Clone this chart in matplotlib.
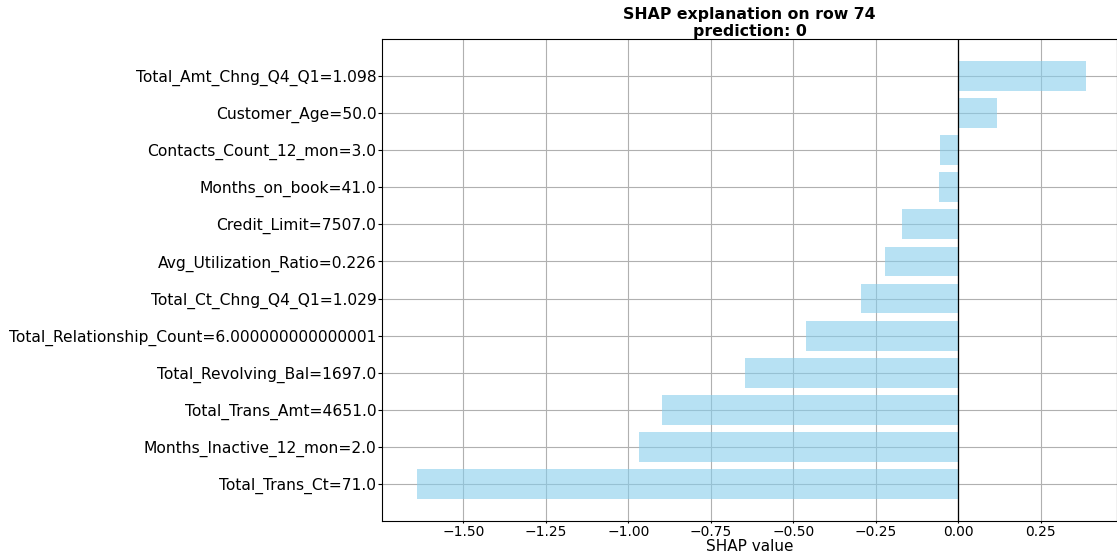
import numpy as np
import matplotlib
matplotlib.use("Agg")
import matplotlib.pyplot as plt

# features (bottom to top) and their SHAP values for row 74
features = [
    "Total_Trans_Ct=71.0",
    "Months_Inactive_12_mon=2.0",
    "Total_Trans_Amt=4651.0",
    "Total_Revolving_Bal=1697.0",
    "Total_Relationship_Count=6.000000000000001",
    "Total_Ct_Chng_Q4_Q1=1.029",
    "Avg_Utilization_Ratio=0.226",
    "Credit_Limit=7507.0",
    "Months_on_book=41.0",
    "Contacts_Count_12_mon=3.0",
    "Customer_Age=50.0",
    "Total_Amt_Chng_Q4_Q1=1.098",
]
shap_values = [-1.642, -0.968, -0.897, -0.646, -0.461, -0.294,
               -0.221, -0.170, -0.058, -0.055, 0.117, 0.388]

fig = plt.figure(figsize=(11.17, 5.56), dpi=100)
ax = fig.add_axes([0.342, 0.063, 0.658, 0.867])

y = np.arange(len(features))
ax.barh(y, shap_values, color='skyblue', alpha=0.6, height=0.8)
ax.axvline(0, color='black', linewidth=0.9)
ax.set_yticks(y)
ax.set_yticklabels(features, fontsize=11.2)
ax.tick_params(axis='y', length=3, pad=1)
ax.tick_params(axis='x', labelsize=10, length=1.5, pad=1.5)
ax.set_xlim(-1.747, 0.482)
ax.set_xlabel('SHAP value', fontsize=11, labelpad=0)
ax.set_title('SHAP explanation on row 74\nprediction: 0', fontsize=11.3,
             fontweight='bold', linespacing=1.2, pad=1)
ax.grid(True)
ax.set_axisbelow(True)

fig.savefig('out.png', dpi=100)
